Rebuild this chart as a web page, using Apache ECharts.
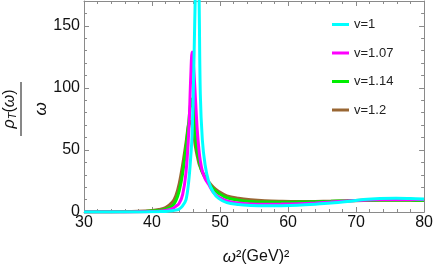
<!DOCTYPE html>
<html><head><meta charset="utf-8">
<script src="https://cdn.jsdelivr.net/npm/echarts@6/dist/echarts.min.js"></script>
<style>html,body{margin:0;padding:0;background:#fff}#c{width:436px;height:267px}</style>
</head><body><div id="c"></div>
<script>
var xs = [30, 34, 37, 39, 40, 41, 42, 43, 43.5, 44, 44.5, 45, 45.4, 45.7, 45.9, 46.15, 46.4, 46.65, 46.9, 47.1, 47.4, 47.8, 48.3, 49, 49.8, 51, 52.7, 54.5, 56.6, 59, 61.4, 64, 66.3, 68.7, 71.1, 73.5, 75.9, 78, 80];
var v1   = [0.01, 0.02, 0.05, 0.1, 0.2, 0.3, 0.5, 1, 1.5, 2.5, 5, 10, 25, 45, 63, 117, 185, 230, 180, 95, 58, 38, 25, 16, 11, 7.5, 6, 5.3, 5, 5.1, 5.5, 6.3, 7.2, 8.5, 10, 10.8, 11, 10.8, 10.5];
var v107 = [0.02, 0.05, 0.1, 0.2, 0.35, 0.6, 1.2, 2.8, 4.5, 7, 14, 32, 65, 110, 129, 114, 90, 66, 50, 41, 33, 27, 22.5, 16, 12, 9, 7.2, 6.5, 6.3, 6.4, 6.7, 7.3, 8, 8.8, 9.5, 10, 10.2, 10.1, 10];
var v114 = [0.05, 0.1, 0.25, 0.5, 0.8, 1.2, 2.2, 5, 9, 17, 31, 52, 73, 88, 91, 80, 60, 49, 42, 37, 32, 27.5, 23.5, 18.5, 15, 11.5, 9.5, 8.5, 8, 7.9, 8, 8.3, 8.6, 9, 9.4, 9.6, 9.7, 9.6, 9.5];
var v12  = [0.1, 0.2, 0.4, 0.8, 1.2, 2, 3.5, 8, 13, 23, 38, 56, 71, 73, 69, 61, 52, 45, 39, 36, 32, 28.5, 24.5, 20, 16.5, 13, 11, 9.8, 9, 8.6, 8.4, 8.5, 8.7, 9, 9.3, 9.5, 9.5, 9.4, 9.3];
var names = ['v=1', 'v=1.07', 'v=1.14', 'v=1.2'];
var colors = ['#00ffff', '#ff00ff', '#00ee00', '#996633'];
var xTicks = [30, 40, 50, 60, 70, 80];
var yTicks = [0, 50, 100, 150];

function pairs(ys){ return xs.map(function(x,i){ return [x, ys[i]]; }); }
var all = [v1, v107, v114, v12];
var frame = '#8a8a8a';
var FF = 'Liberation Sans';
function xa(pos, show){
  return {type:'value', position:pos, min:xTicks[0], max:xTicks[xTicks.length-1], interval:10,
    axisLine:{show:true, onZero:false, lineStyle:{color:frame, width:1}},
    axisTick:{show:true, inside:true, length:5, lineStyle:{color:frame}},
    minorTick:{show:true, splitNumber:5, length:3, lineStyle:{color:frame}},
    splitLine:{show:false},
    axisLabel:{show:show, margin:3, fontSize:16, color:'#111', fontFamily:FF}};
}
function ya(pos, show){
  return {type:'value', position:pos, min:yTicks[0], max:170, interval:50,
    axisLine:{show:true, onZero:false, lineStyle:{color:frame, width:1}},
    axisTick:{show:true, inside:true, length:5, lineStyle:{color:frame}},
    minorTick:{show:true, splitNumber:5, length:3, lineStyle:{color:frame}},
    splitLine:{show:false},
    axisLabel:{show:show, showMaxLabel:false, margin:4, fontSize:16, color:'#111', fontFamily:FF,
      formatter:function(v){ return yTicks.indexOf(v) >= 0 ? String(v) : ''; }}};
}
var chart = echarts.init(document.getElementById('c'), null, {renderer:'canvas'});
chart.setOption({
  animation:false,
  grid:{left:84, right:8, top:1, bottom:55},
  xAxis:[xa('bottom', true), xa('top', false)],
  yAxis:[ya('left', true), ya('right', false)],
  legend:{orient:'vertical', left:327, top:12, icon:'rect', itemWidth:17, itemHeight:3, itemGap:13.5,
    textStyle:{fontSize:13, color:'#222', fontFamily:FF, lineHeight:15},
    data:names},
  series: all.map(function(ys,i){
    return {type:'line', name:names[i], data:pairs(ys), showSymbol:false, symbol:'none',
      smooth:0.35, clip:true, lineStyle:{width:3, color:colors[i]}, itemStyle:{color:colors[i]}, z:10-i};
  }),
  graphic:[
    {type:'text', x:256, y:257,
      style:{text:'{i|ω}{n|²(GeV)²}', align:'center', verticalAlign:'middle', fill:'#111',
        rich:{i:{fontStyle:'italic', fontSize:17, fontFamily:FF}, n:{fontSize:16, fontFamily:FF}}}},
    {type:'group', x:21, y:109, rotation:Math.PI/2, children:[
      {type:'line', shape:{x1:-27, y1:0, x2:27, y2:0}, style:{stroke:'#111', lineWidth:1}},
      {type:'text', x:0, y:-3, style:{text:'{i|ρ}{s|T}{n|(}{i|ω}{n|)}', align:'center', verticalAlign:'bottom', fill:'#111',
        rich:{i:{fontStyle:'italic', fontSize:16, fontFamily:FF},
              n:{fontSize:16, fontFamily:FF},
              s:{fontStyle:'italic', fontSize:11, fontFamily:FF, verticalAlign:'bottom'}}}},
      {type:'text', x:0, y:12, style:{text:'ω', align:'center', verticalAlign:'top', fill:'#111',
        font:'italic 17px Liberation Sans'}}
    ]}
  ]
});
</script></body></html>
